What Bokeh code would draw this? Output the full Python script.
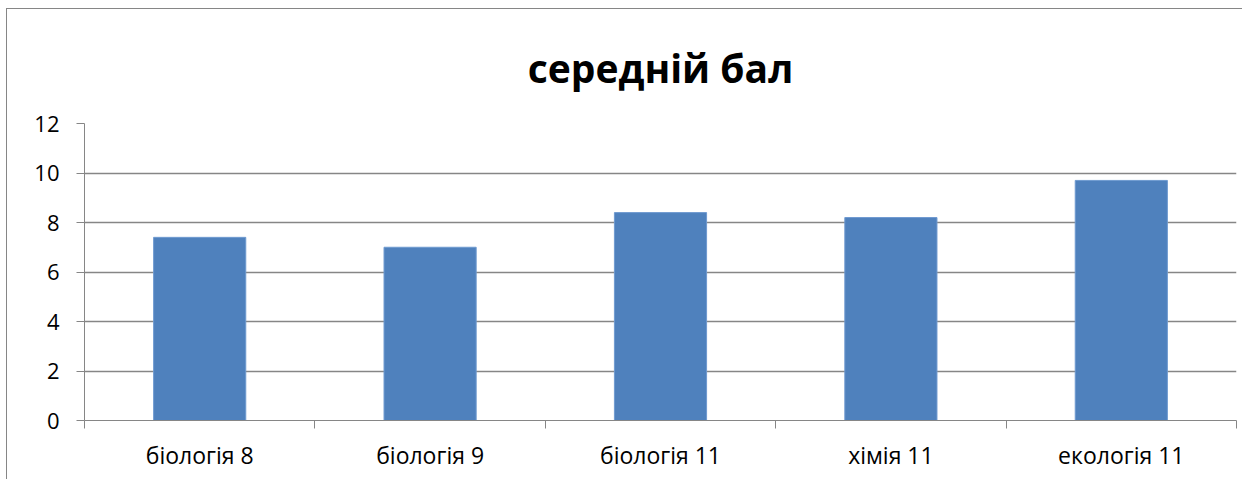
import numpy as np
from bokeh.plotting import figure
from bokeh.models import FixedTicker, Range1d, ColumnDataSource
from bokeh.embed import file_html
from bokeh.resources import INLINE

categories = ["біологія 8", "біологія 9", "біологія 11", "хімія 11", "екологія 11"]
values = [7.4, 7.0, 8.4, 8.2, 9.7]
y_ticks = [0, 2, 4, 6, 8, 10, 12]
title_text = "середній бал"

FONT = "Open Sans"
GRID = "#868686"

xs = np.arange(len(categories)) + 0.5
src = ColumnDataSource(dict(x=xs, top=values, cat=categories))

p = figure(width=1236, height=471, output_backend="svg", toolbar_location=None,
           x_range=Range1d(0, len(categories)), y_range=Range1d(0, 12),
           min_border_left=77, min_border_right=7, min_border_bottom=60, min_border_top=0)
p.styles = {"position": "relative", "left": "6px", "top": "8px",
            "border-left": "1px solid #868686", "border-top": "1px solid #868686"}

p.title.text = title_text
p.title.align = "center"
p.title.text_font = FONT
p.title.text_font_size = "39px"
p.title.text_font_style = "bold"
p.title.text_color = "black"
p.title.standoff = 59
p.title.offset = 0

p.vbar(x="x", top="top", width=0.4, bottom=0, source=src,
       fill_color="#4F81BD", line_color="#6F9AD0", line_width=1)

p.outline_line_color = None
p.xgrid.grid_line_color = None
p.ygrid.grid_line_color = GRID
p.ygrid.grid_line_width = 1.3
p.ygrid.ticker = FixedTicker(ticks=y_ticks)

p.yaxis.ticker = FixedTicker(ticks=y_ticks)
p.yaxis.axis_line_color = GRID
p.yaxis.major_tick_line_color = GRID
p.yaxis.major_tick_out = 8
p.yaxis.major_tick_in = 0
p.yaxis.minor_tick_line_color = None
p.yaxis.major_label_standoff = 17
p.yaxis.major_label_text_font = FONT
p.yaxis.major_label_text_font_size = "22px"
p.yaxis.major_label_text_color = "black"

p.xaxis.ticker = FixedTicker(ticks=list(xs), minor_ticks=list(range(len(categories) + 1)))
p.xaxis.major_label_overrides = {float(x): c for x, c in zip(xs, categories)}
p.xaxis.axis_line_color = GRID
p.xaxis.major_tick_line_color = None
p.xaxis.major_tick_out = 8
p.xaxis.major_tick_in = 0
p.xaxis.minor_tick_line_color = GRID
p.xaxis.minor_tick_out = 8
p.xaxis.minor_tick_in = 0
p.xaxis.major_label_standoff = 10
p.xaxis.major_label_text_font = FONT
p.xaxis.major_label_text_font_size = "23px"
p.xaxis.major_label_text_color = "black"

open("out.html", "w").write(file_html(p, INLINE))
